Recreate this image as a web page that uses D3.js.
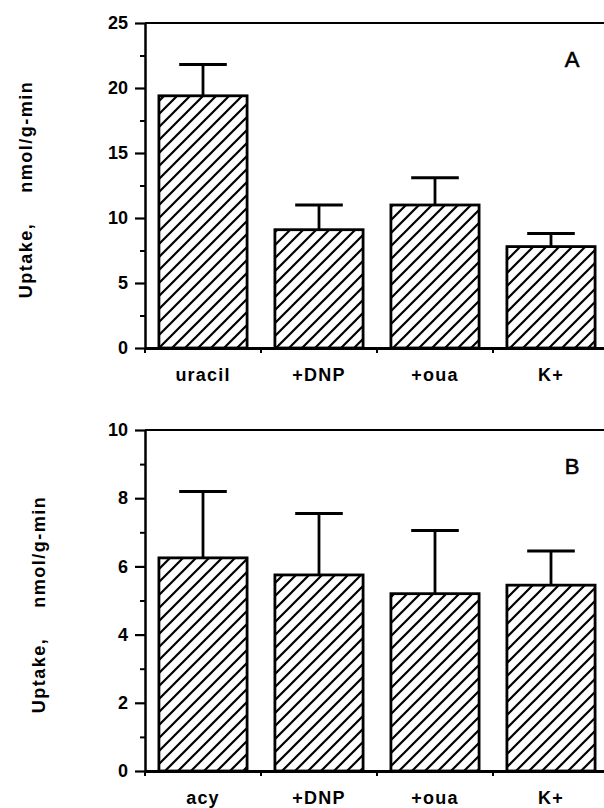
<!DOCTYPE html>
<html>
<head>
<meta charset="utf-8">
<script src="https://cdn.jsdelivr.net/npm/d3@7"></script>
<style>
  body { margin: 0; background: #fff; }
  svg { display: block; }
  text { font-family: "Liberation Sans", Arial, sans-serif; fill: #000; }
</style>
</head>
<body>
<svg id="chart" width="604" height="808"></svg>
<script>
// panel A: uracil uptake
const catsA = ['uracil', '+DNP', '+oua', 'K+']
const meansA = [19.4, 9.1, 11.0, 7.8]
const errA = [2.4, 1.9, 2.1, 1.0]
const majorA = [0, 5, 10, 15, 20, 25]
const minorA = [2.5, 7.5, 12.5, 17.5, 22.5]

// panel B: acyclovir uptake
const catsB = ['acy', '+DNP', '+oua', 'K+']
const meansB = [6.25, 5.75, 5.2, 5.45]
const errB = [1.95, 1.8, 1.85, 1.0]
const majorB = [0, 2, 4, 6, 8, 10]
const minorB = [1, 3, 5, 7, 9]

const svg = d3.select('#chart')
const left = 145
const right = 609

// diagonal hatch
const defs = svg.append('defs')
defs.append('pattern')
  .attr('id', 'hatch')
  .attr('patternUnits', 'userSpaceOnUse')
  .attr('width', 13)
  .attr('height', 13)
  .append('path')
  .attr('d', 'M0,13 L13,0 M-3,3 L3,-3 M10,16 L16,10')
  .attr('stroke', '#000')
  .attr('stroke-width', 2.2)

function drawPanel (opts) {
  const { cats, means, errs, major, minor, top, bottom, letter, labelX } = opts
  const g = svg.append('g')

  const x = d3.scaleBand()
    .domain(cats)
    .range([left, right])
    .paddingInner(0.24)
    .paddingOuter(0.12)

  const y = d3.scaleLinear()
    .domain([0, d3.max(major)])
    .range([bottom, top])

  // top frame line
  g.append('line')
    .attr('x1', left).attr('x2', right)
    .attr('y1', y(d3.max(major))).attr('y2', y(d3.max(major)))
    .attr('stroke', '#000').attr('stroke-width', 2)

  // bars
  g.selectAll('rect.bar')
    .data(means)
    .enter()
    .append('rect')
    .attr('class', 'bar')
    .attr('x', (d, i) => x(cats[i]))
    .attr('y', d => y(d))
    .attr('width', x.bandwidth())
    .attr('height', d => y(0) - y(d))
    .attr('fill', 'url(#hatch)')
    .attr('stroke', '#000')
    .attr('stroke-width', 2.8)

  // error bars (upper only)
  const cx = i => x(cats[i]) + x.bandwidth() / 2
  const capHalf = x.bandwidth() * 0.27
  g.selectAll('line.err')
    .data(means)
    .enter()
    .append('line')
    .attr('class', 'err')
    .attr('x1', (d, i) => cx(i)).attr('x2', (d, i) => cx(i))
    .attr('y1', d => y(d))
    .attr('y2', (d, i) => y(d + errs[i]))
    .attr('stroke', '#000').attr('stroke-width', 2.8)
  g.selectAll('line.cap')
    .data(means)
    .enter()
    .append('line')
    .attr('class', 'cap')
    .attr('x1', (d, i) => cx(i) - capHalf).attr('x2', (d, i) => cx(i) + capHalf)
    .attr('y1', (d, i) => y(d + errs[i]))
    .attr('y2', (d, i) => y(d + errs[i]))
    .attr('stroke', '#000').attr('stroke-width', 3)

  // y axis
  const yAxis = g.append('g')
    .attr('transform', `translate(${left},0)`)
    .call(d3.axisLeft(y).tickValues(major).tickSize(10).tickPadding(7).tickSizeOuter(0))
  yAxis.select('.domain').attr('stroke-width', 2.5)
  yAxis.selectAll('.tick line').attr('stroke-width', 2.2)
  yAxis.selectAll('.tick text')
    .attr('font-size', 18)
    .attr('font-weight', 'bold')
    .attr('font-family', '"Liberation Sans", Arial, sans-serif')

  g.append('g')
    .attr('transform', `translate(${left},0)`)
    .call(d3.axisLeft(y).tickValues(minor).tickSize(5).tickSizeOuter(0).tickFormat(''))
    .call(a => a.select('.domain').remove())
    .selectAll('.tick line').attr('stroke-width', 2)

  // x axis with category labels
  const xAxis = g.append('g')
    .attr('transform', `translate(0,${y(0)})`)
    .call(d3.axisBottom(x).tickSize(0).tickPadding(20).tickSizeOuter(0))
  xAxis.select('.domain').attr('stroke-width', 2.8)
  xAxis.selectAll('.tick text')
    .attr('font-size', 18)
    .attr('font-weight', 'bold')
    .attr('letter-spacing', 1.2)
    .attr('font-family', '"Liberation Sans", Arial, sans-serif')

  // small ticks between the bars
  const gap = x.step() * x.paddingInner() / 2
  g.selectAll('line.sep')
    .data(cats)
    .enter()
    .append('line')
    .attr('class', 'sep')
    .attr('x1', d => x(d) - gap).attr('x2', d => x(d) - gap)
    .attr('y1', y(0)).attr('y2', y(0) + 5)
    .attr('stroke', '#000').attr('stroke-width', 2)

  // y label
  const midY = (top + bottom) / 2 + 4
  const lab = g.append('text')
    .attr('transform', `translate(${labelX},${midY}) rotate(-90)`)
    .attr('text-anchor', 'middle')
    .attr('font-size', 18)
    .attr('font-weight', 'bold')
    .attr('letter-spacing', 1.5)
  lab.append('tspan').text('Uptake,')
  lab.append('tspan').attr('dx', 30).text('nmol/g-min')

  // panel letter
  g.append('text')
    .attr('x', 572)
    .attr('y', top + 44)
    .attr('text-anchor', 'middle')
    .attr('font-size', 22)
    .attr('stroke', '#000')
    .attr('stroke-width', 0.6)
    .attr('font-family', '"DejaVu Sans Condensed", "Liberation Sans Narrow", sans-serif')
    .attr('font-stretch', 'condensed')
    .text(letter)
}

drawPanel({ cats: catsA, means: meansA, errs: errA, major: majorA, minor: minorA, top: 23, bottom: 348, letter: 'A', labelX: 32 })
drawPanel({ cats: catsB, means: meansB, errs: errB, major: majorB, minor: minorB, top: 430, bottom: 771, letter: 'B', labelX: 45 })
</script>
</body>
</html>
